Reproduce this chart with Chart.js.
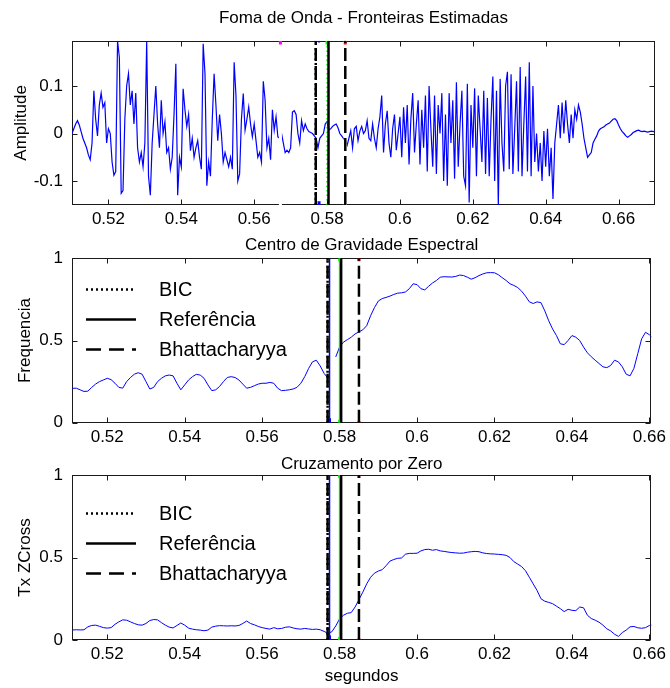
<!DOCTYPE html>
<html>
<head>
<meta charset="utf-8">
<title>Fronteiras Estimadas</title>
<script src="https://cdn.jsdelivr.net/npm/chart.js@4.4.1/dist/chart.umd.min.js"></script>
<style>
  body { margin: 0; background: #fff; }
  #wrap { position: relative; width: 670px; height: 688px; }
  #wrap canvas { position: absolute; left: 0; top: 0; }
</style>
</head>
<body>
<div id="wrap">
  <canvas id="onda" width="670" height="688"></canvas>
  <canvas id="centro" width="670" height="688"></canvas>
  <canvas id="zcross" width="670" height="688"></canvas>
</div>
<script>
// sinal de voz, uma amostra a cada 0.5 ms a partir de 0.51 s
var waveStart = 0.51;
var waveStep = 0.0005;
var waveAmp = [
  0, 0.01, 0.02, 0.027, 0.018, 0.004, -0.01, -0.02, -0.03, -0.045, -0.055, -0.02, 0.09, 0.03, -0.005, 0.06, 0.085, 0.055, 0.065, -0.02, 0.01,
  0.0, -0.06, -0.088, -0.08, 0.195, 0.16, -0.126, -0.12, 0.03, 0.1, 0.126, 0.06, 0.09, 0.02, 0.085, -0.03, -0.06, -0.04, -0.07, -0.02,
  0.195, -0.09, -0.13, -0.02, 0.04, 0.1, 0.02, -0.03, 0.07, 0.0, 0.025, -0.04, -0.03, -0.075, -0.05, 0.04, 0.147, -0.13, -0.05, -0.07,
  0.094, 0.05, 0.015, 0.04, -0.036, -0.01, -0.05, -0.03, -0.015, -0.05, -0.075, 0.189, 0.126, -0.11, -0.06, -0.09, 0.03, 0.126, 0.06, -0.015,
  0.04, 0.0, -0.06, -0.04, -0.055, -0.07, -0.05, -0.075, 0.15, 0.08, -0.1, -0.085, 0.03, 0.084, 0.007, 0.03, 0.056, 0.02, -0.007, 0.02,
  -0.015, -0.05, -0.04, -0.06, 0.11, 0.07, -0.03, -0.01, -0.055, 0.05, 0.007, 0.035, -0.007, -0.01, 0.0, -0.02, -0.04, -0.035, -0.04, -0.03,
  0.045, 0.048, 0.04, 0.0, -0.02, 0.027, 0.006, 0.02, 0.01, 0.004, 0.002, 0.0, -0.005, -0.01, -0.03, -0.01, -0.005, 0.0, 0.02, 0.025,
  0.008, 0.01, 0.015, 0.018, 0.02, 0.012, 0.0, -0.005, -0.01, -0.015, -0.025, -0.01, 0.006, -0.03, 0.01, 0.015, -0.015, 0.005, 0.015, 0.0,
  0.006, 0.027, -0.01, -0.015, 0.02, -0.01, -0.03, 0.01, 0.035, 0.08, -0.04, 0.02, 0.048, -0.02, -0.05, 0.01, 0.04, -0.035, 0.0, 0.035,
  -0.05, 0.055, -0.02, 0.06, -0.065, 0.03, 0.085, -0.04, 0.02, 0.07, -0.065, 0.05, -0.03, 0.08, -0.08, 0.1, 0.01, -0.07, 0.08, -0.085,
  0.06, 0.0, 0.085, -0.1, 0.04, -0.11, 0.085, -0.02, 0.07, -0.095, 0.108, -0.07, 0.02, 0.09, -0.09, -0.11, 0.105, -0.145, 0.06, -0.03,
  0.095, -0.09, 0.08, 0.01, -0.06, 0.09, -0.085, 0.075, -0.09, 0.03, 0.12, -0.1, 0.09, -0.152, 0.115, -0.02, -0.08, 0.1, 0.13, -0.075,
  0.125, -0.085, 0.01, 0.11, -0.08, 0.14, -0.09, 0.02, 0.12, -0.08, 0.15, -0.09, 0.1, -0.06, 0.0, -0.08, -0.02, -0.1, 0.005, -0.07,
  0.01, -0.09, -0.03, -0.138, -0.02, 0.02, 0.06, -0.01, 0.065, 0.0, 0.07, 0.02, -0.02, 0.04, -0.01, 0.05, 0.03, 0.06, 0.045, 0.02,
  -0.01, -0.03, -0.05, -0.045, -0.04, -0.02, -0.012, -0.005, 0.005, 0.01, 0.012, 0.014, 0.018, 0.02, 0.022, 0.026, 0.03, 0.031, 0.027, 0.018,
  0.01, 0.004, 0.0, -0.005, -0.008, -0.005, -0.002, 0.002, 0.004, 0.006, 0.007, 0.005, 0.004, 0.005, 0.004, 0.003, 0.004, 0.005, 0.004, 0.005
];

// parametros por quadro (1 ms): centro de gravidade espectral e taxa de cruzamento por zero
var featStart = 0.511;
var featStep = 0.001;
var cgValues = [
  0.209, 0.21, 0.2, 0.19, 0.192, 0.215, 0.235, 0.25, 0.26, 0.27,
  0.262, 0.24, 0.215, 0.21, 0.25, 0.275, 0.295, 0.304, 0.295, 0.25,
  0.205, 0.215, 0.25, 0.27, 0.285, 0.29, 0.285, 0.24, 0.2, 0.23,
  0.26, 0.28, 0.294, 0.29, 0.27, 0.23, 0.195, 0.2, 0.22, 0.25,
  0.275, 0.28, 0.275, 0.26, 0.235, 0.21, 0.215, 0.225, 0.235, 0.24,
  0.24, 0.245, 0.24, 0.21, 0.195, 0.197, 0.2, 0.205, 0.215, 0.24,
  0.28, 0.33, 0.37, 0.38, 0.345, 0.3, 0.27, null, 0.4, 0.46,
  0.49, 0.505, 0.52, 0.54, 0.552, 0.565, 0.59, 0.65, 0.7, 0.74,
  0.755, 0.762, 0.77, 0.78, 0.788, 0.79, 0.795, 0.815, 0.845, 0.84,
  0.815, 0.808, 0.83, 0.85, 0.865, 0.885, 0.888, 0.887, 0.886, 0.89,
  0.898, 0.895, 0.885, 0.873, 0.882, 0.895, 0.905, 0.912, 0.913, 0.912,
  0.9, 0.882, 0.865, 0.845, 0.835, 0.822, 0.8, 0.77, 0.735, 0.725,
  0.735, 0.73, 0.68, 0.62, 0.57, 0.53, 0.48, 0.475, 0.5, 0.53,
  0.52, 0.5, 0.46, 0.425, 0.401, 0.38, 0.36, 0.34, 0.335, 0.348,
  0.38, 0.37, 0.34, 0.295, 0.285, 0.33, 0.42, 0.51, 0.55, 0.535, 0.512
];
var zcValues = [
  0.061, 0.062, 0.061, 0.062, 0.08, 0.088, 0.09, 0.083, 0.075, 0.072,
  0.075, 0.095, 0.11, 0.122, 0.12, 0.11, 0.1, 0.092, 0.09, 0.1,
  0.118, 0.124, 0.122, 0.105, 0.09, 0.078, 0.073, 0.088, 0.103, 0.09,
  0.072, 0.066, 0.062, 0.06, 0.056, 0.06, 0.078, 0.084, 0.087, 0.086,
  0.085, 0.086, 0.085, 0.088, 0.1, 0.115, 0.1, 0.092, 0.082, 0.075,
  0.07, 0.066, 0.075, 0.068, 0.07, 0.077, 0.08, 0.073, 0.068, 0.066,
  0.07, 0.067, 0.064, 0.066, 0.062, 0.052, 0.04, 0.05, 0.085, 0.128,
  0.15, 0.162, 0.166, 0.2, 0.245, 0.29, 0.34, 0.38, 0.405, 0.418,
  0.426, 0.45, 0.478, 0.488, 0.495, 0.497, 0.52, 0.525, 0.525, 0.526,
  0.54, 0.548, 0.55, 0.544, 0.548, 0.54, 0.537, 0.533, 0.53, 0.528,
  0.526, 0.527, 0.532, 0.535, 0.537, 0.535, 0.528, 0.524, 0.522, 0.521,
  0.519, 0.517, 0.513, 0.5, 0.475, 0.46, 0.445, 0.42, 0.38, 0.34,
  0.3, 0.25, 0.235, 0.228, 0.22, 0.205, 0.19, 0.172, 0.186, 0.18,
  0.178, 0.2, 0.195, 0.15, 0.13, 0.12, 0.108, 0.09, 0.068, 0.055,
  0.035, 0.022, 0.045, 0.06, 0.08, 0.082, 0.074, 0.071, 0.075, 0.088, 0.092
];

// fronteiras (s)
var bicBounds = [0.5769];
var referenceBounds = [0.5804];
var bhattBounds = [0.5769, 0.585];
var bicMarks = [0.5774];      // azul
var refMarks = [0.58];        // verde
var bhattMarks = [0.585];     // vermelho
var extraMarks = [0.5672];    // magenta

var timeTicks = [0.52, 0.54, 0.56, 0.58, 0.6, 0.62, 0.64, 0.66];
var ampTicks = [-0.1, 0, 0.1];
var unitTicks = [0, 0.5, 1];

Chart.defaults.font.family = '"Liberation Sans", Arial, Helvetica, sans-serif';
Chart.defaults.font.size = 17;
Chart.defaults.color = '#000';

function toPoints(start, step, values) {
  return values.map(function(v, i) {
    return { x: +(start + i * step).toFixed(5), y: v };
  });
}

function vline(t, y0, y1, color, width, dash, order) {
  return {
    data: [{ x: t, y: y0 }, { x: t, y: y1 }],
    borderColor: color, borderWidth: width, borderDash: dash || [],
    borderCapStyle: 'butt', pointRadius: 0, order: order
  };
}

// caixa estilo matlab com marcas de escala para dentro
var matlabAxes = {
  id: 'matlabAxes',
  beforeDatasetsDraw: function(chart) {
    var a = chart.chartArea, ctx = chart.ctx;
    var L = Math.round(a.left) + 0.5, R = Math.round(a.right) - 0.5;
    var T = Math.round(a.top) + 0.5, B = Math.round(a.bottom) - 0.5;
    var tl = 5;
    ctx.save();
    ctx.strokeStyle = '#1a1a1a';
    ctx.lineWidth = 1;
    ctx.strokeRect(L, T, R - L, B - T);
    ctx.beginPath();
    chart.scales.x.ticks.forEach(function(t) {
      var px = Math.round(chart.scales.x.getPixelForValue(t.value)) + 0.5;
      ctx.moveTo(px, B); ctx.lineTo(px, B - tl);
      ctx.moveTo(px, T); ctx.lineTo(px, T + tl);
    });
    chart.scales.y.ticks.forEach(function(t) {
      var py = Math.round(chart.scales.y.getPixelForValue(t.value)) + 0.5;
      ctx.moveTo(L, py); ctx.lineTo(L + tl, py);
      ctx.moveTo(R, py); ctx.lineTo(R - tl, py);
    });
    ctx.stroke();
    ctx.restore();
  }
};

// legenda dentro do grafico, canto superior esquerdo
var boxLegend = {
  id: 'boxLegend',
  afterDraw: function(chart, args, opts) {
    if (!opts.items) return;
    var a = chart.chartArea, ctx = chart.ctx;
    ctx.save();
    ctx.font = '20px "Liberation Sans", Arial, sans-serif';
    ctx.textBaseline = 'middle';
    ctx.fillStyle = '#000';
    ctx.strokeStyle = '#000';
    ctx.lineWidth = 2.5;
    opts.items.forEach(function(it, i) {
      var y = Math.round(a.top + opts.top + i * opts.gap) + 0.5;
      ctx.setLineDash(it.dash);
      ctx.beginPath();
      ctx.moveTo(a.left + 14, y);
      ctx.lineTo(a.left + 64, y);
      ctx.stroke();
      ctx.fillText(it.text, a.left + 87, y + 1);
    });
    ctx.restore();
  }
};

var legendItems = [
  { text: 'BIC', dash: [2, 3] },
  { text: 'Referência', dash: [] },
  { text: 'Bhattacharyya', dash: [15, 8] }
];

function boundarySets(y0, y1, h, first) {
  var sets = [];
  bicMarks.forEach(function(t) {
    if (first) {
      sets.push(vline(t + 0.0004, y0, y0 + h, '#0000ff', 3, [], 4));
      sets.push(vline(t + 0.0004, y1 - h * 0.5, y1, '#0000ff', 2, [], 4));
    } else {
      sets.push(vline(t, y0, y1, '#0000ff', 1.5, [], 4));
      sets.push(vline(t, y0, y0 + h * 1.5, '#0000ff', 3, [], 4));
    }
  });
  refMarks.forEach(function(t) {
    sets.push(vline(t, y0, y1, '#00ff00', 1.5, first ? [1.5, 3] : [], 4));
    sets.push(vline(t, y1 - h, y1, '#00ff00', 3, [], 4));
    if (!first) sets.push(vline(t, y0, y0 + h, '#00ff00', 3, [], 4));
  });
  bhattMarks.forEach(function(t) {
    sets.push(vline(t, y1 - h, y1, '#ff0000', 3, [], 4));
    if (!first) sets.push(vline(t, y0, y0 + h * 0.6, '#ff0000', 3, [], 4));
  });
  referenceBounds.forEach(function(t) {
    sets.push(vline(t, y0, y1, '#000', 2.5, [], 1));
  });
  bhattBounds.forEach(function(t) {
    sets.push(vline(t, y0, y1, '#000', 2.5, [13, 5], 2));
  });
  bicBounds.forEach(function(t) {
    sets.push(vline(t, y0, y1, '#000', 2.5, [2, 3], 2));
  });
  return sets;
}

function makeChart(id, o) {
  return new Chart(document.getElementById(id), {
    type: 'line',
    data: { datasets: o.datasets },
    options: {
      responsive: false,
      animation: false,
      events: [],
      devicePixelRatio: 1,
      layout: { autoPadding: false, padding: o.padding },
      elements: { line: { tension: 0 } },
      plugins: {
        legend: { display: false },
        tooltip: { enabled: false },
        title: {
          display: true, text: o.title, fullSize: false,
          font: { size: 17, weight: 'normal' }, padding: o.titlePad
        },
        boxLegend: o.legend || {}
      },
      scales: {
        x: {
          type: 'linear', min: o.xMin, max: o.xMax,
          grid: { display: false, drawTicks: false },
          border: { display: false },
          ticks: { padding: 4, autoSkip: false, maxRotation: 0, callback: function(v) { return String(v); } },
          afterBuildTicks: function(s) { s.ticks = timeTicks.map(function(v) { return { value: v }; }); },
          afterFit: function(s) { s.height = o.xHeight; },
          title: o.xTitle || { display: false }
        },
        y: {
          type: 'linear', min: o.yMin, max: o.yMax,
          grid: { display: false, drawTicks: false },
          border: { display: false },
          ticks: { padding: 9, callback: function(v) { return String(v); } },
          afterBuildTicks: function(s) { s.ticks = o.yTicks.map(function(v) { return { value: v }; }); },
          afterFit: function(s) { s.width = 72; },
          title: { display: true, text: o.yTitle, font: { size: 17 }, padding: { top: o.yTitlePad, bottom: 0 } }
        }
      }
    },
    plugins: [matlabAxes, boxLegend]
  });
}

// forma de onda
var ampMin = -0.1505, ampMax = 0.1954;
var ondaSets = [
  { data: toPoints(waveStart, waveStep, waveAmp), borderColor: '#0000ff', borderWidth: 1.2, pointRadius: 0, order: 9 }
];
extraMarks.concat(bhattMarks).forEach(function(t) {
  ondaSets.push(vline(t, ampMin, ampMax, '#fff', 3, [], 6));
});
extraMarks.forEach(function(t) {
  ondaSets.push(vline(t, ampMax - 0.008, ampMax, '#ff00ff', 3, [], 5));
});
ondaSets = ondaSets.concat(boundarySets(ampMin, ampMax, 0.008, true));

makeChart('onda', {
  datasets: ondaSets,
  title: 'Foma de Onda - Fronteiras Estimadas',
  titlePad: { top: 8, bottom: 12.3 },
  padding: { top: 0, left: 0, right: 15, bottom: 458 },
  xMin: 0.51, xMax: 0.67, xHeight: 25,
  yMin: ampMin, yMax: ampMax, yTicks: ampTicks,
  yTitle: 'Amplitude', yTitlePad: 11.3
});

// centro de gravidade espectral
makeChart('centro', {
  datasets: [
    { data: toPoints(featStart, featStep, cgValues), borderColor: '#0000ff', borderWidth: 1, pointRadius: 0, order: 9 }
  ].concat(boundarySets(0, 1, 0.018, false)),
  title: 'Centro de Gravidade Espectral',
  titlePad: { top: 4.8, bottom: 3.1 },
  padding: { top: 230, left: 0, right: 15, bottom: 240.3 },
  xMin: 0.5109, xMax: 0.6605, xHeight: 25,
  yMin: 0, yMax: 1, yTicks: unitTicks,
  yTitle: 'Frequencia', yTitlePad: 15.3,
  legend: { items: legendItems, top: 31, gap: 30 }
});

// taxa de cruzamento por zero
makeChart('zcross', {
  datasets: [
    { data: toPoints(featStart, featStep, zcValues), borderColor: '#0000ff', borderWidth: 1, pointRadius: 0, order: 9 }
  ].concat(boundarySets(0, 1, 0.018, false)),
  title: 'Cruzamento por Zero',
  titlePad: { top: 4.6, bottom: 0 },
  padding: { top: 450, left: 0, right: 15, bottom: 0 },
  xMin: 0.5109, xMax: 0.6605, xHeight: 48,
  xTitle: { display: true, text: 'segundos', font: { size: 17 }, padding: { top: 0, bottom: 1.8 } },
  yMin: 0, yMax: 1, yTicks: unitTicks,
  yTitle: 'Tx ZCross', yTitlePad: 15.3,
  legend: { items: legendItems, top: 37.5, gap: 30 }
});
</script>
</body>
</html>
